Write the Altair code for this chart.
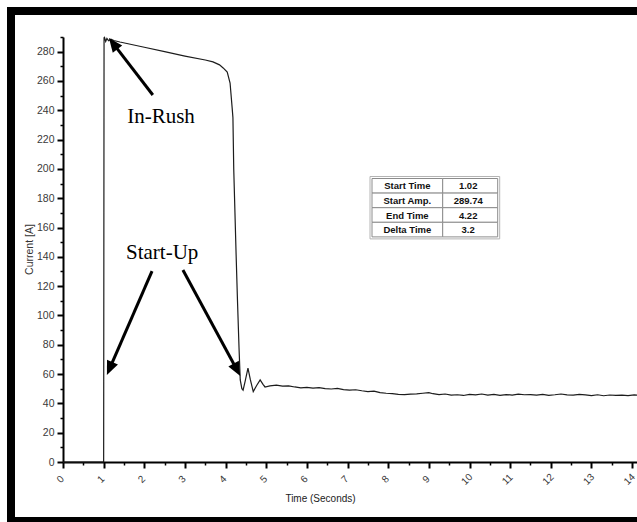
import altair as alt
import pandas as pd
import numpy as np

# ---------------- data ----------------
time_s = [0.0, 1.0, 1.01, 1.02, 1.05, 1.08, 1.12, 1.18, 1.25, 1.40, 2.0, 2.5, 3.0, 3.5,
          3.69, 3.85, 3.94, 4.04, 4.11, 4.16, 4.18, 4.20, 4.23, 4.26, 4.29, 4.33, 4.36,
          4.40, 4.43, 4.48, 4.55, 4.61, 4.68, 4.76, 4.85, 4.92, 4.97, 5.09, 5.25, 5.40,
          5.55, 5.70, 5.85, 6.00, 6.15, 6.30, 6.45, 6.60, 6.75, 6.90, 7.05, 7.20, 7.35,
          7.50, 7.65, 7.80, 7.95, 8.10, 8.25, 8.40, 8.55, 8.70, 8.85, 9.00, 9.10, 9.25,
          9.40, 9.55, 9.70, 9.85, 10.00, 10.15, 10.30, 10.45, 10.60, 10.75, 10.90, 11.05,
          11.20, 11.35, 11.50, 11.65, 11.80, 11.95, 12.10, 12.25, 12.40, 12.55, 12.70,
          12.85, 13.00, 13.15, 13.30, 13.45, 13.60, 13.75, 13.90, 14.05, 14.12]
current_a = [0.0, 0.0, 289.5, 289.74, 287.0, 289.0, 287.5, 288.5, 287.6, 286.6, 283.0, 280.0,
             277.0, 274.3, 273.0, 271.0, 268.9, 266.0, 258.6, 242.0, 235.0, 200.0, 170.0,
             140.0, 112.0, 78.0, 56.0, 50.0, 49.0, 55.0, 64.0, 56.0, 48.0, 52.0, 56.0, 53.0,
             51.2, 51.9, 52.4, 51.8, 52.0, 51.2, 50.6, 50.9, 50.4, 50.7, 50.1, 49.8, 50.2,
             49.4, 49.0, 49.3, 48.6, 48.0, 48.3, 47.4, 46.9, 46.6, 46.2, 46.0, 46.3, 46.5,
             46.9, 47.3, 46.6, 46.0, 46.4, 45.6, 45.9, 45.4, 46.2, 45.8, 46.4, 45.7, 46.1,
             45.5, 46.0, 45.7, 46.3, 45.9, 46.0, 45.6, 46.1, 45.5, 45.9, 46.4, 45.8, 45.6,
             46.1, 45.8, 45.3, 45.9, 45.2, 45.7, 45.4, 45.6, 45.3, 45.8, 45.7]

x_ticks = list(range(0, 15))
x_minor = [i + 0.5 for i in range(0, 14)]
y_ticks = list(range(0, 290, 20))
y_minor = list(range(10, 300, 20))

note_text = ["In-Rush", "Start-Up"]
note_t = [2.41, 2.44]
note_a = [231.3, 138.5]

arrow_tail_t = [2.21, 2.19, 2.95]
arrow_tail_a = [250.4, 130.3, 131.0]
arrow_tip_t = [1.13, 1.08, 4.36]
arrow_tip_a = [289.3, 59.4, 58.7]

table_labels = ["Start Time", "Start Amp.", "End Time", "Delta Time"]
table_values = ["1.02", "289.74", "4.22", "3.2"]

# ---------------- layout ----------------
W, H = 574, 425
T_MAX, A_MAX = 14.12, 290
LEFT, TOP = 63, 37
TOTAL_H = 522
kx = W / T_MAX
ky = H / A_MAX


def px_t(px):
    return (px - LEFT) / kx


def px_a(py):
    return (TOP + H - py) / ky


xscale = alt.Scale(domain=[0, T_MAX], nice=False, zero=False)
yscale = alt.Scale(domain=[0, A_MAX], nice=False, zero=False)
LABEL_FONT = "Liberation Sans"

curve = pd.DataFrame({"t": time_s, "a": current_a})

main = alt.Chart(curve).mark_line(color="#1c1c1c", strokeWidth=1.2, interpolate="linear").encode(
    x=alt.X("t:Q", scale=xscale, axis=alt.Axis(
        orient="bottom",
        values=x_ticks, format="d", labelAngle=315, labelAlign="center", labelBaseline="middle",
        labelPadding=11, labelOffset=-3, labelFlush=False, labelOverlap=False,
        tickSize=6, tickWidth=2, tickColor="black", domainColor="black", domainWidth=2,
        labelFont=LABEL_FONT, labelFontSize=10, labelColor="#3a3a3a", grid=False,
        title="Time (Seconds)", titleFont=LABEL_FONT, titleFontSize=10, titleFontWeight="normal",
        titleColor="#222222", titleX=257, titleY=36, titleAlign="center", titleBaseline="middle")),
    y=alt.Y("a:Q", scale=yscale, axis=alt.Axis(
        orient="left",
        values=y_ticks, labelPadding=3, labelFlush=False, labelOverlap=False,
        tickSize=6, tickWidth=2, tickColor="black", domainColor="black", domainWidth=2,
        labelFont=LABEL_FONT, labelFontSize=10.5, labelColor="#3a3a3a", grid=False,
        title="Current [A]", titleFont=LABEL_FONT, titleFontSize=10.5, titleFontWeight="normal",
        titleColor="#333333", titleX=-34, titleY=212, titleAlign="center", titleBaseline="middle")),
)

minor = alt.Chart(curve).mark_line(strokeOpacity=0).encode(
    x=alt.X("t:Q", scale=xscale, axis=alt.Axis(
        values=x_minor, labels=False, domain=False, tickSize=3, tickWidth=1.5,
        tickColor="black", grid=False, title=None, orient="bottom")),
    y=alt.Y("a:Q", scale=yscale, axis=alt.Axis(
        values=y_minor, labels=False, domain=False, tickSize=3, tickWidth=1.5,
        tickColor="black", grid=False, title=None, orient="left")),
)

# arrows
arrows = pd.DataFrame({"t0": arrow_tail_t, "a0": arrow_tail_a,
                       "t1": arrow_tip_t, "a1": arrow_tip_a})
dxp = (arrows.t1 - arrows.t0) * kx
dyp = -(arrows.a1 - arrows.a0) * ky
L = np.hypot(dxp, dyp)
arrows["angle"] = np.degrees(np.arctan2(dxp, -dyp)) % 360
arrows["te"] = arrows.t1 - (dxp / L * 9) / kx
arrows["ae"] = arrows.a1 + (dyp / L * 9) / ky

shafts = alt.Chart(arrows).mark_rule(color="black", strokeWidth=3).encode(
    x=alt.X("t0:Q", scale=xscale, axis=None), y=alt.Y("a0:Q", scale=yscale, axis=None),
    x2="te:Q", y2="ae:Q")

heads = alt.Chart(arrows).mark_point(shape="M0,0L-0.85,2L0.85,2Z", filled=True, color="black",
                                     size=196, opacity=1, strokeWidth=0).encode(
    x=alt.X("t1:Q", scale=xscale, axis=None), y=alt.Y("a1:Q", scale=yscale, axis=None),
    angle=alt.Angle("angle:Q", scale=None))

notes = alt.Chart(pd.DataFrame({"txt": note_text, "t": note_t, "a": note_a})).mark_text(
    font="Liberation Serif", fontSize=21, align="center", baseline="alphabetic", color="black"
).encode(x=alt.X("t:Q", scale=xscale, axis=None), y=alt.Y("a:Q", scale=yscale, axis=None),
         text="txt:N")

# table
tx0, txm, tx1 = 372.0, 442.7, 497.7
ty0, row_h = 178.5, 14.6
cells = []
for i, (lab, val) in enumerate(zip(table_labels, table_values)):
    y_top = ty0 + i * row_h
    for (xa, xb, txt) in ((tx0, txm, lab), (txm, tx1, val)):
        cells.append({"x": px_t(xa), "x2": px_t(xb), "y": px_a(y_top), "y2": px_a(y_top + row_h),
                      "xc": px_t((xa + xb) / 2 - (2 if txt == val else 0)),
                      "yc": px_a(y_top + row_h / 2 + 0.5), "txt": txt})
cells = pd.DataFrame(cells)
outer = pd.DataFrame({"x": [px_t(tx0 - 2)], "x2": [px_t(tx1 + 2)],
                      "y": [px_a(ty0 - 2)], "y2": [px_a(ty0 + 4 * row_h + 2)]})

tbl_outer = alt.Chart(outer).mark_rect(fill="white", stroke="#b4b4b4", strokeWidth=1).encode(
    x=alt.X("x:Q", scale=xscale, axis=None), x2="x2:Q",
    y=alt.Y("y:Q", scale=yscale, axis=None), y2="y2:Q")
tbl_cells = alt.Chart(cells).mark_rect(fill="white", stroke="#8c8c8c", strokeWidth=1).encode(
    x=alt.X("x:Q", scale=xscale, axis=None), x2="x2:Q",
    y=alt.Y("y:Q", scale=yscale, axis=None), y2="y2:Q")
tbl_text = alt.Chart(cells).mark_text(font=LABEL_FONT, fontSize=9.5, fontWeight="bold",
                                      align="center", baseline="middle", color="#111111").encode(
    x=alt.X("xc:Q", scale=xscale, axis=None), y=alt.Y("yc:Q", scale=yscale, axis=None),
    text="txt:N")

# black frame (left, top and bottom sides; the right side lies outside the picture)
one = pd.DataFrame({"k": [0]})
frame_top = alt.Chart(one).mark_rule(color="black", strokeWidth=8).encode(
    x=alt.value(7 - LEFT), x2=alt.value(W + 10), y=alt.value(11 - TOP))
frame_left = alt.Chart(one).mark_rule(color="black", strokeWidth=8).encode(
    x=alt.value(11 - LEFT), y=alt.value(7 - TOP), y2=alt.value(525 - TOP))
frame_bottom = alt.Chart(one).mark_rule(color="black", strokeWidth=8).encode(
    x=alt.value(7 - LEFT), x2=alt.value(W + 10), y=alt.value(521 - TOP))

chart = alt.layer(frame_top, frame_left, frame_bottom, minor, main, tbl_outer, tbl_cells,
                  tbl_text, shafts, heads, notes).resolve_axis(
    x="independent", y="independent"
).properties(
    width=W, height=H, autosize="none",
    padding={"left": LEFT, "top": TOP, "right": 0, "bottom": TOTAL_H - TOP - H},
    background="white",
    usermeta={"embedOptions": {
        "defaultStyle": ".vega-embed svg{display:block} html,body{overflow:hidden;margin:0}"}},
).configure_view(stroke=None)

chart.save("out.html", embed_options={"renderer": "svg", "actions": False})
